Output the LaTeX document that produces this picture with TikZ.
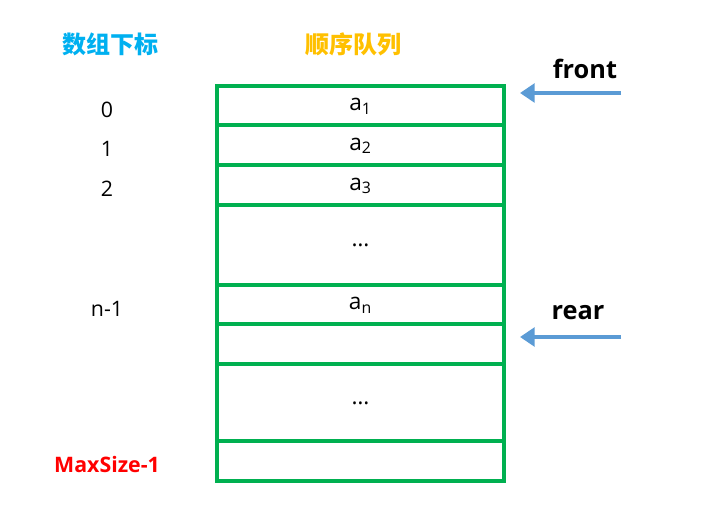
\documentclass[tikz,border=0pt]{standalone}
\usepackage{fontspec}
\setmainfont{Open Sans}
\newfontfamily\cjk{Noto Sans CJK SC}
\usetikzlibrary{positioning,arrows.meta}
\definecolor{cellgreen}{RGB}{0,176,80}
\definecolor{headcyan}{RGB}{0,176,240}
\definecolor{headgold}{RGB}{255,192,0}
\definecolor{pointerblue}{RGB}{91,155,213}

\begin{document}
\begin{tikzpicture}[x=0.75pt,y=-0.75pt,
    cell/.style={rectangle,draw=cellgreen,line width=2.6pt,minimum width=215.25pt,outer sep=0pt,inner sep=0pt,text height=8pt,text depth=0pt,font=\fontsize{17}{20}\selectfont},
    gapcell/.style={cell,text height=3pt,text depth=0pt},
    idx/.style={yshift=-3pt,font=\fontsize{16}{19}\selectfont},
    header/.style={font=\cjk\bfseries\fontsize{18}{22}\selectfont},
    pointer/.style={font=\bfseries\fontsize{19}{23}\selectfont},
    qarrow/.style={-{Triangle[length=11pt,width=14pt]},line width=3.6pt,draw=pointerblue,shorten >=12pt}
]
    \useasboundingbox (0,0) rectangle (714,509);
    \node[header,text=headcyan] (hidx) at (110,44) {数组下标};
    \node[header,text=headgold] (hqueue) at (353,44) {顺序队列};

    \node[cell,minimum height=29.25pt] (c1) at (360.5,105.5) {a\textsubscript{1}};
    \node[cell,minimum height=30pt,below=0pt of c1] (c2) {a\textsubscript{2}};
    \node[cell,minimum height=30pt,below=0pt of c2] (c3) {a\textsubscript{3}};
    \node[gapcell,minimum height=60pt,below=0pt of c3] (c4) {…};
    \node[cell,minimum height=29.25pt,below=0pt of c4] (c5) {a\textsubscript{n}};
    \node[cell,minimum height=30pt,below=0pt of c5] (c6) {};
    \node[gapcell,minimum height=57.75pt,below=0pt of c6] (c7) {…};
    \node[cell,minimum height=30pt,below=0pt of c7] (c8) {};

    \coordinate (idxcol) at (107,0);
    \node[idx] (i0) at (c1 -| idxcol) {0};
    \node[idx] (i1) at (c2 -| idxcol) {1};
    \node[idx] (i2) at (c3 -| idxcol) {2};
    \node[idx] (in) at (c5 -| idxcol) {n-1};
    \node[idx,font=\bfseries\fontsize{16}{19}\selectfont,text=red] (imax) at (c8 -| idxcol) {MaxSize-1};

    \node[pointer] (frontlbl) at (585,69) {front};
    \node[pointer] (rearlbl) at (578,313) {rear};
    \coordinate (ftail) at (621,93);
    \coordinate (rtail) at (621,337);
    \draw[qarrow] (ftail) -- (ftail -| c1.east);
    \draw[qarrow] (rtail) -- (rtail -| c6.east);
\end{tikzpicture}
\end{document}
